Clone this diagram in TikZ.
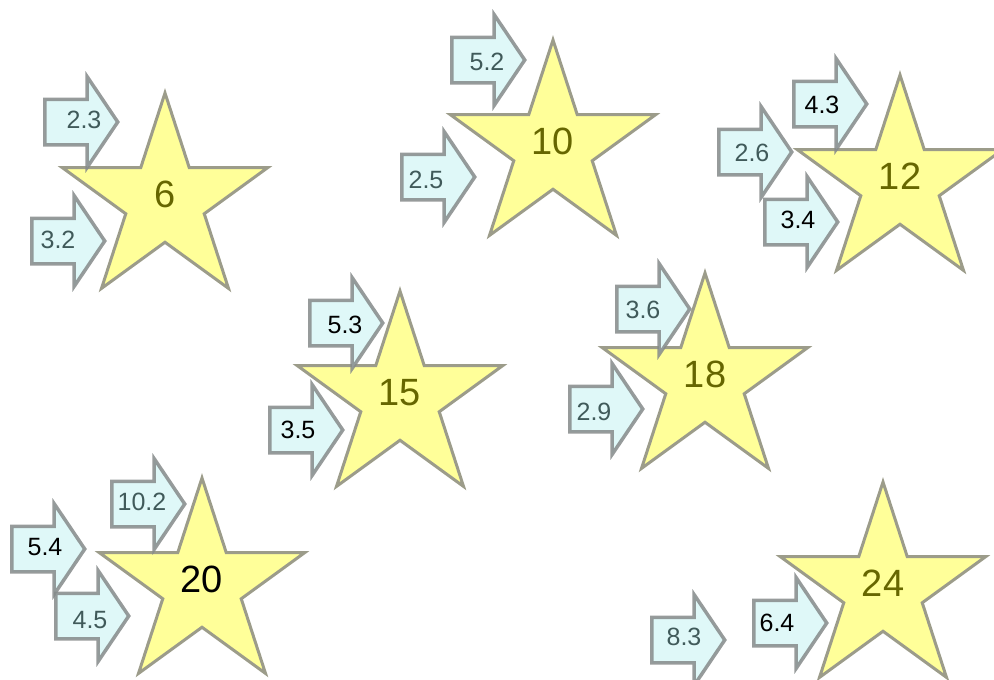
\documentclass[tikz,border=0pt]{standalone}
\usepackage{fontspec}
\setmainfont{Liberation Sans}
\usetikzlibrary{shapes.geometric,shapes.arrows}

\definecolor{starfill}{HTML}{FFFF99}
\definecolor{starline}{HTML}{9C9C8A}
\definecolor{starlbl}{HTML}{666600}
\definecolor{arrowfill}{HTML}{DFF8F8}
\definecolor{arrowline}{HTML}{858A8A}
\definecolor{numgray}{HTML}{405A5A}

\begin{document}
\begin{tikzpicture}[
    x=1pt, y=-1pt,
    bigstar/.style={star, star points=5, star point ratio=2.618,
        minimum size=216pt, inner sep=0pt, text depth=14pt,
        fill=starfill, draw=starline, line width=3pt,
        text=starlbl, font=\fontsize{38}{40}\selectfont},
    hint/.style={single arrow, single arrow head extend=22.5pt,
        single arrow tip angle=112, minimum height=73pt,
        inner xsep=0pt, inner ysep=21pt, anchor=tail,
        fill=arrowfill, draw=arrowline, draw opacity=0.85, line width=3.5pt},
    num/.style={font=\fontsize{25}{27}\selectfont, inner sep=0pt, text=numgray},
    numdark/.style={num, text=black}
]
\clip (0,0) rectangle (994,680);

% stars
\node[bigstar] (s6) at (165,201) {6};
\node[bigstar] (s10) at (553,148) {10};
\node[bigstar] (s12) at (900,183) {12};
\node[bigstar] (s15) at (400,399) {15};
\node[bigstar] (s18) at (705,381) {18};
\node[bigstar, text=black] (s20) at (202,586) {20};
\node[bigstar] (s24) at (883,590) {24};

% arrows
\node[hint] (a23) at (43,122) {};
\node[num] (t23) at (84,120) {2.3};
\node[hint] (a32) at (30,241) {};
\node[num] (t32) at (58,240) {3.2};

\node[hint] (a52) at (450,60) {};
\node[num] (t52) at (487,62) {5.2};
\node[hint] (a25) at (400,177) {};
\node[num] (t25) at (426,180) {2.5};

\node[hint] (a43) at (792,104) {};
\node[numdark] (t43) at (822,105) {4.3};
\node[hint] (a26) at (717,152) {};
\node[num] (t26) at (752,153) {2.6};
\node[hint] (a34) at (763,222) {};
\node[numdark] (t34) at (798,220) {3.4};

\node[hint] (a53) at (308,323) {};
\node[numdark] (t53) at (345,325) {5.3};
\node[hint] (a35) at (268,430) {};
\node[numdark] (t35) at (298,430) {3.5};

\node[hint] (a36) at (615,309) {};
\node[num] (t36) at (643,310) {3.6};
\node[hint] (a29) at (568,409) {};
\node[num] (t29) at (594,412) {2.9};

\node[hint] (a102) at (110,504) {};
\node[num] (t102) at (142,502) {10.2};
\node[hint] (a54) at (10,549) {};
\node[numdark] (t54) at (45,547) {5.4};
\node[hint] (a45) at (54,616) {};
\node[num] (t45) at (90,620) {4.5};

\node[hint] (a64) at (752,623) {};
\node[numdark] (t64) at (777,623) {6.4};
\node[hint] (a83) at (650,640) {};
\node[num] (t83) at (684,637) {8.3};
\end{tikzpicture}
\end{document}
